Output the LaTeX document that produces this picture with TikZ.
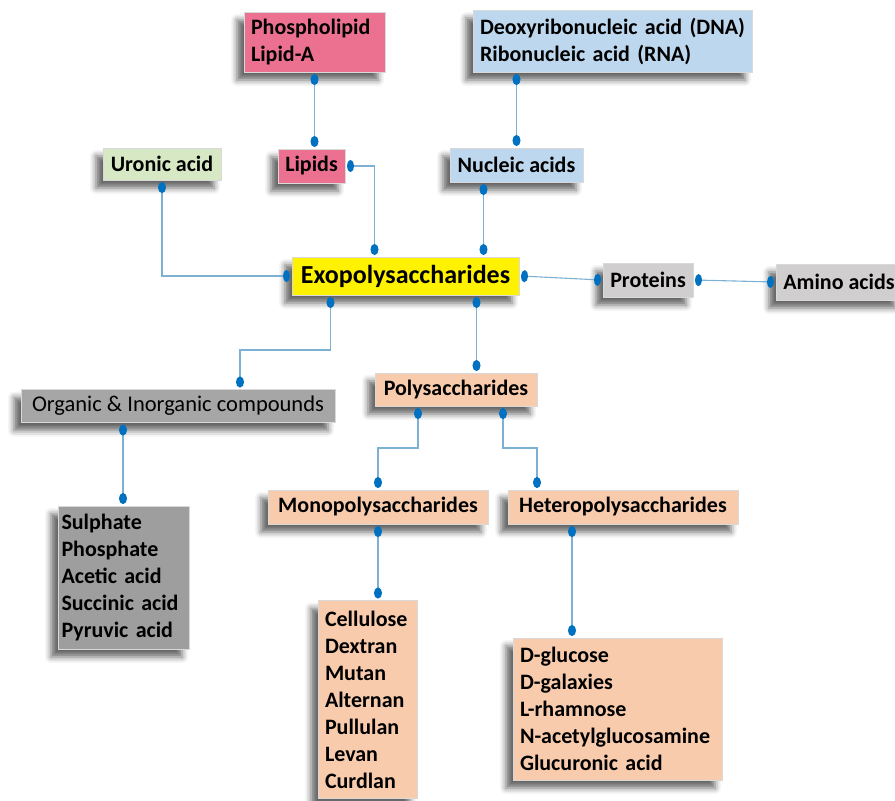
\documentclass[tikz,border=0pt]{standalone}
\usepackage{fontspec}
\setmainfont{Carlito}
\usetikzlibrary{arrows.meta,shadows.blur}

\definecolor{pinkbox}{HTML}{EC7191}
\definecolor{bluebox}{HTML}{BDD7EE}
\definecolor{greenbox}{HTML}{D6E8C4}
\definecolor{protgray}{HTML}{D0CECE}
\definecolor{orggray}{HTML}{A6A6A6}
\definecolor{peach}{HTML}{F8CBAD}
\definecolor{linkblue}{HTML}{7DB1D3}
\definecolor{dotblue}{HTML}{0070C0}

\tikzset{
	box/.style={draw=white!70!gray, line width=0.8pt, inner sep=0pt, outer sep=2pt,
		font=\fontsize{22}{27}\selectfont\bfseries,
		blur shadow={shadow xshift=-7pt, shadow yshift=-8pt, shadow opacity=60, shadow blur radius=6pt}},
	list/.style={box, align=left, inner xsep=7pt, text width=#1},
	link/.style={draw=linkblue, line width=1.1pt},
	vdot/.tip={Ellipse[length=11pt,width=8pt,color=dotblue]},
	hdot/.tip={Ellipse[length=7pt,width=12pt,color=dotblue]}
}

\begin{document}
\begin{tikzpicture}[x=1pt,y=-1pt]
	\useasboundingbox (0,0) rectangle (895,801);
	
	% centre
	\node[box, fill=yellow, minimum width=227, minimum height=38, font=\fontsize{26}{30}\selectfont\bfseries] (exo) at (405.5,276) {Exopolysaccharides};
	
	% upper branches
	\node[list=127, fill=pinkbox, minimum height=60] (phos) at (314.5,42) {Phospholipid\\Lipid-A};
	\node[list=265, fill=bluebox, minimum height=62] (dna) at (612.5,41) {Deoxyribonucleic acid (DNA)\\Ribonucleic acid (RNA)};
	\node[box, fill=greenbox, minimum width=118, minimum height=32] (uronic) at (162,164) {Uronic acid};
	\node[box, fill=pinkbox, minimum width=67, minimum height=34] (lipids) at (311.5,166) {Lipids};
	\node[box, fill=bluebox, minimum width=133, minimum height=34] (nuc) at (516.5,165) {Nucleic acids};
	
	% right branch
	\node[box, fill=protgray, minimum width=90, minimum height=34] (prot) at (648,280) {Proteins};
	\node[box, fill=protgray, minimum width=126, minimum height=36] (amino) at (839,282) {Amino acids};
	
	% lower branches
	\node[box, fill=orggray, minimum width=314, minimum height=33, font=\fontsize{22.5}{27}\selectfont] (org) at (178,406) {Organic \& Inorganic compounds};
	\node[list=124, inner xsep=3.5pt, fill=orggray!95!black, minimum height=143] (sul) at (123.5,577.5) {Sulphate\\Phosphate\\Acetic acid\\Succinic acid\\Pyruvic acid};
	\node[box, fill=peach, minimum width=162, minimum height=33] (poly) at (456,389.5) {Polysaccharides};
	\node[box, fill=peach, minimum width=220, minimum height=34] (mono) at (378,507) {Monopolysaccharides};
	\node[box, fill=peach, minimum width=230, minimum height=34] (hetero) at (623,507) {Heteropolysaccharides};
	\node[list=85, fill=peach, minimum height=198] (cell) at (367.5,699.5) {Cellulose\\Dextran\\Mutan\\Alternan\\Pullulan\\Levan\\Curdlan};
	\node[list=195, fill=peach, minimum height=142] (gluc) at (617.5,709) {D-glucose\\D-galaxies\\L-rhamnose\\N-acetylglucosamine\\Glucuronic acid};
	
	% connectors
	\draw[link,vdot-vdot] (phos.south) -- (phos.south |- lipids.north);
	\draw[link,vdot-vdot] (nuc.north |- dna.south) -- (nuc.north);
	\draw[link,vdot-hdot] (uronic.south) |- (exo.west);
	\draw[link,hdot-vdot] (lipids.east) -| ([xshift=-31pt]exo.north);
	\draw[link,vdot-vdot] ([xshift=-33pt]nuc.south) -- ([xshift=-33pt]nuc.south |- exo.north);
	\draw[link,hdot-hdot] (exo.east) -- (prot.west);
	\draw[link,hdot-hdot] (prot.east) -- (amino.west);
	\draw[link,vdot-vdot] ([xshift=-75pt]exo.south) -- ++(0,53) -| ([xshift=62pt]org.north);
	\draw[link,vdot-vdot] ([xshift=71pt]exo.south) -- ([xshift=71pt]exo.south |- poly.north);
	\draw[link,vdot-vdot] ([xshift=-55pt]org.south) -- ([xshift=-55pt]org.south |- sul.north);
	\draw[link,vdot-vdot] ([xshift=-38pt]poly.south) -- ++(0,40) -| (mono.north);
	\draw[link,vdot-vdot] ([xshift=47pt]poly.south) -- ++(0,40) -| ([xshift=-86pt]hetero.north);
	\draw[link,vdot-vdot] (mono.south) -- (mono.south |- cell.north);
	\draw[link,vdot-vdot] ([xshift=-51pt]hetero.south) -- ([xshift=-51pt]hetero.south |- gluc.north);
	
\end{tikzpicture}
\end{document}
